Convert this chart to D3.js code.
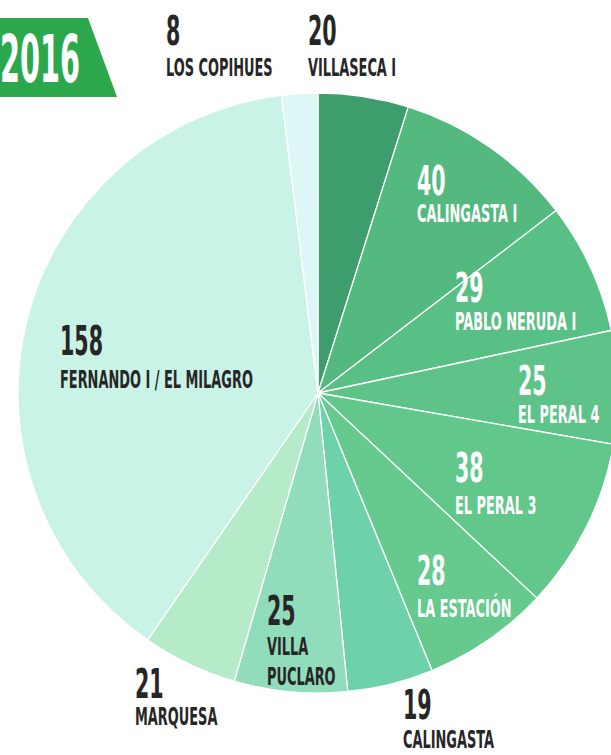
<!DOCTYPE html>
<html>
<head>
<meta charset="utf-8">
<script src="https://cdn.jsdelivr.net/npm/d3@7"></script>
<style>
  body { margin: 0; background: #fff; }
  svg text { font-family: "Liberation Sans Narrow", "DejaVu Sans Condensed", Roboto, sans-serif; font-weight: bold; }
</style>
</head>
<body>
<svg id="chart" width="611" height="755"></svg>
<script>
const year = '2016';
const names = ['VILLASECA I', 'CALINGASTA I', 'PABLO NERUDA I', 'EL PERAL 4', 'EL PERAL 3',
  'LA ESTACIÓN', 'CALINGASTA', 'VILLA PUCLARO', 'MARQUESA', 'FERNANDO I / EL MILAGRO', 'LOS COPIHUES'];
const values = [20, 40, 29, 25, 38, 28, 19, 25, 21, 158, 8];
const colors = ['#3d9d6d', '#53b97f', '#58bf85', '#5dc388', '#61c78b', '#66ca8f',
  '#6dd2a9', '#91dcba', '#b6ebc9', '#c9f3e6', '#ddf7f6'];

// where each label sits (number baseline, label baseline step), and its colour
const labelAt = {
  'VILLASECA I':   {x: 308, y: 45,  step: 31, fill: '#262626'},
  'CALINGASTA I':  {x: 417, y: 195, step: 27, fill: '#fff'},
  'PABLO NERUDA I':{x: 455, y: 302, step: 28, fill: '#fff'},
  'EL PERAL 4':    {x: 518, y: 395, step: 28, fill: '#fff'},
  'EL PERAL 3':    {x: 455, y: 482, step: 32, fill: '#fff'},
  'LA ESTACIÓN':   {x: 417, y: 585, step: 32, fill: '#fff'},
  'CALINGASTA':    {x: 403, y: 719, step: 29, fill: '#262626'},
  'VILLA PUCLARO': {x: 267, y: 625, step: 30, fill: '#262626', lines: ['VILLA', 'PUCLARO']},
  'MARQUESA':      {x: 135, y: 698, step: 27, fill: '#262626'},
  'FERNANDO I / EL MILAGRO': {x: 60, y: 355, step: 33, fill: '#262626'},
  'LOS COPIHUES':  {x: 166, y: 45,  step: 31, fill: '#262626'}
};

const svg = d3.select('#chart');
const cx = 318, cy = 393, radius = 300;

const data = names.map((n, i) => ({name: n, value: values[i], color: colors[i]}));

const pie = d3.pie().value(d => d.value).sort(null);
const arc = d3.arc().innerRadius(0).outerRadius(radius);

const base = svg.append('g')
  .attr('transform', `translate(${cx}, ${cy})`);

base.selectAll('path')
  .data(pie(data))
  .enter()
  .append('path')
  .attr('d', arc)
  .attr('fill', d => d.data.color)
  .attr('stroke', '#fff')
  .attr('stroke-width', 1.3)
  .attr('stroke-linejoin', 'round');

// year badge
svg.append('path')
  .attr('d', 'M0,18 L88,18 L117,97 L0,97 Z')
  .attr('fill', '#2ba84c');

// measure to get a condensed look
function squeeze(size, sample, target) {
  let t = svg.append('text').style('font-size', size + 'px').text(sample);
  let w = t.node().getComputedTextLength();
  t.remove();
  return target / w;
}
const numScale = squeeze(41, '158', 43);
const labScale = squeeze(24, 'FERNANDO I / EL MILAGRO', 193);
const yearScale = squeeze(65, year, 80);

svg.append('text')
  .attr('transform', `translate(0, 82) scale(${yearScale}, 1)`)
  .style('font-size', '65px')
  .attr('fill', '#fff')
  .text(year);

let labels = svg.append('g').attr('class', 'labels');

data.forEach(d => {
  let p = labelAt[d.name];
  let g = labels.append('g').attr('fill', p.fill);

  g.append('text')
    .attr('transform', `translate(${p.x}, ${p.y}) scale(${numScale}, 1)`)
    .style('font-size', '41px')
    .text(d.value);

  let lines = p.lines || [d.name];
  lines.forEach((l, i) => {
    g.append('text')
      .attr('transform', `translate(${p.x}, ${p.y + p.step * (i + 1)}) scale(${labScale}, 1)`)
      .style('font-size', '24px')
      .text(l);
  });
});
</script>
</body>
</html>
